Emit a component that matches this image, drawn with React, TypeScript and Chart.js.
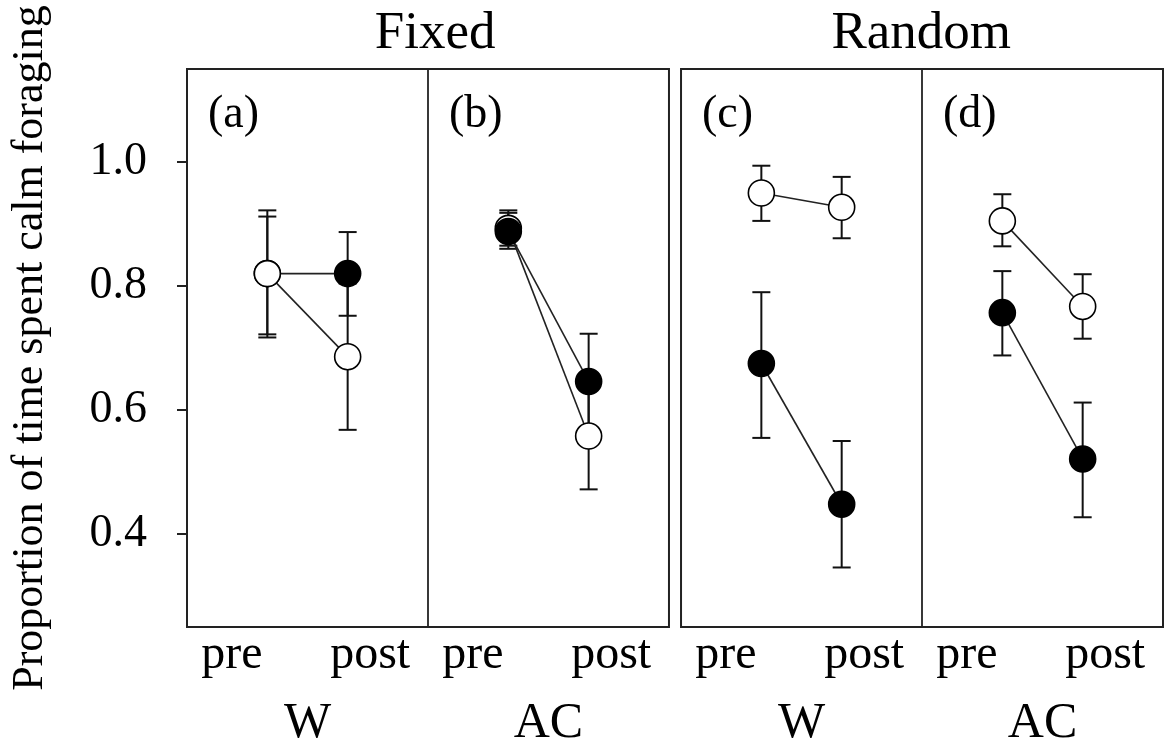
import React, { useEffect, useRef } from "react";
import { Chart, registerables } from "chart.js";

Chart.register(...registerables);

// ---- text ----
const panelLabels = ["(a)", "(b)", "(c)", "(d)"];
const groupTitles = ["Fixed", "Random"];
const phaseLabels = ["pre", "post"];
const treatmentLabels = ["W", "AC", "W", "AC"];
const yTicks = [0.4, 0.6, 0.8, 1.0];
const yTitle = "Proportion of time spent calm foraging";

// ---- data: per panel [pre, post] ----
const filledMean = [[0.82, 0.82], [0.888, 0.646], [0.675, 0.448], [0.757, 0.521]];
const filledLo = [[0.717, 0.752], [0.86, 0.569], [0.555, 0.346], [0.688, 0.427]];
const filledHi = [[0.922, 0.887], [0.918, 0.723], [0.79, 0.55], [0.824, 0.612]];

const openMean = [[0.82, 0.686], [0.893, 0.558], [0.95, 0.927], [0.905, 0.767]];
const openLo = [[0.722, 0.568], [0.865, 0.472], [0.905, 0.877], [0.864, 0.715]];
const openHi = [[0.912, 0.804], [0.922, 0.644], [0.994, 0.976], [0.948, 0.819]];

// ---- layout constants (x-scale units) ----
const panelStart = [0, 3, 6.15, 9.15];
const groupSpan = [[0, 6], [6.15, 12.15]];
const dividers = [3, 9.15];
const xMax = 12.15;
const openOnTop = [true, false, true, true];
const phaseLabelOffset = [0.56, 2.28];
const groupTitlePos = [3.09, 9.14];

const FONT = "'Liberation Serif', 'Times New Roman', serif";

const phaseTickValues = panelStart.flatMap((s) => phaseLabelOffset.map((o) => s + o));
const phaseTickLabels = panelStart.flatMap(() => phaseLabels);
const treatTickValues = panelStart.map((s) => s + 1.5);

function buildDatasets() {
  const ds: any[] = [];
  panelStart.forEach((x0, p) => {
    const series = [
      { mean: filledMean[p], lo: filledLo[p], hi: filledHi[p], fill: "#000", top: !openOnTop[p] },
      { mean: openMean[p], lo: openLo[p], hi: openHi[p], fill: "#fff", top: openOnTop[p] },
    ];
    series.forEach((s) => {
      ds.push({
        type: "line",
        data: [
          { x: x0 + 1, y: s.lo[0] },
          { x: x0 + 1, y: s.hi[0] },
          { x: x0 + 1, y: null },
          { x: x0 + 2, y: s.lo[1] },
          { x: x0 + 2, y: s.hi[1] },
        ],
        borderColor: "#111",
        borderWidth: 2,
        spanGaps: false,
        pointStyle: "line",
        pointRadius: 9,
        pointBorderWidth: 2,
        pointBorderColor: "#111",
        pointBackgroundColor: "#111",
        order: 10,
      });
      ds.push({
        type: "line",
        data: [
          { x: x0 + 1, y: s.mean[0] },
          { x: x0 + 2, y: s.mean[1] },
        ],
        borderColor: "#222",
        borderWidth: 1.6,
        pointStyle: "circle",
        pointRadius: 13,
        pointBorderWidth: 1.6,
        pointBorderColor: "#000",
        pointBackgroundColor: s.fill,
        order: s.top ? 1 : 2,
      });
    });
  });
  return ds;
}

const framePlugin = {
  id: "frames",
  beforeDatasetsDraw(chart: any) {
    const { ctx, chartArea } = chart;
    const x = chart.scales.x;
    ctx.save();
    ctx.strokeStyle = "#222";
    ctx.lineWidth = 2;
    groupSpan.forEach(([a, b]) => {
      const l = x.getPixelForValue(a);
      const r = x.getPixelForValue(b);
      ctx.strokeRect(l, chartArea.top, r - l, chartArea.bottom - chartArea.top);
    });
    ctx.lineWidth = 1.8;
    dividers.forEach((d) => {
      const px = Math.round(x.getPixelForValue(d));
      ctx.beginPath();
      ctx.moveTo(px, chartArea.top);
      ctx.lineTo(px, chartArea.bottom);
      ctx.stroke();
    });
    ctx.fillStyle = "#000";
    ctx.font = `46px ${FONT}`;
    ctx.textAlign = "left";
    ctx.textBaseline = "alphabetic";
    panelLabels.forEach((lab, p) => {
      ctx.fillText(lab, x.getPixelForValue(panelStart[p]) + 21, chartArea.top + 58);
    });
    ctx.restore();
  },
};

export default function App() {
  const ref = useRef<HTMLCanvasElement | null>(null);

  useEffect(() => {
    if (!ref.current) return;
    const chart = new Chart(ref.current, {
      type: "line",
      data: { datasets: buildDatasets() },
      options: {
        responsive: false,
        animation: false,
        devicePixelRatio: 1,
        events: [],
        layout: { autoPadding: false, padding: { top: 0, right: 4, bottom: 0, left: 0 } },
        plugins: { legend: { display: false }, tooltip: { enabled: false } },
        scales: {
          x: {
            type: "linear",
            position: "bottom",
            min: 0,
            max: xMax,
            weight: 0,
            grid: { display: false, drawTicks: false },
            border: { display: false },
            afterBuildTicks: (s: any) => {
              s.ticks = phaseTickValues.map((v) => ({ value: v }));
            },
            afterFit: (s: any) => {
              s.height = 64;
            },
            ticks: {
              autoSkip: false,
              maxRotation: 0,
              padding: 0,
              color: "#000",
              font: { family: FONT, size: 48 },
              callback: (_v: any, i: number) => phaseTickLabels[i],
            },
          },
          x2: {
            type: "linear",
            position: "bottom",
            min: 0,
            max: xMax,
            weight: 1,
            grid: { display: false, drawTicks: false },
            border: { display: false },
            afterBuildTicks: (s: any) => {
              s.ticks = treatTickValues.map((v) => ({ value: v }));
            },
            afterFit: (s: any) => {
              s.height = 62;
            },
            ticks: {
              autoSkip: false,
              maxRotation: 0,
              padding: 3,
              color: "#000",
              font: { family: FONT, size: 50 },
              callback: (_v: any, i: number) => treatmentLabels[i],
            },
          },
          xTop: {
            type: "linear",
            position: "top",
            min: 0,
            max: xMax,
            grid: { display: false, drawTicks: false },
            border: { display: false },
            afterBuildTicks: (s: any) => {
              s.ticks = groupTitlePos.map((v) => ({ value: v }));
            },
            afterFit: (s: any) => {
              s.height = 69;
            },
            ticks: {
              autoSkip: false,
              maxRotation: 0,
              padding: 3,
              color: "#000",
              font: { family: FONT, size: 53 },
              callback: (_v: any, i: number) => groupTitles[i],
            },
          },
          y: {
            type: "linear",
            position: "left",
            min: 0.25,
            max: 1.15,
            grid: {
              drawOnChartArea: false,
              drawTicks: true,
              tickLength: 10,
              color: "#222",
              lineWidth: 2,
            },
            border: { display: false },
            afterBuildTicks: (s: any) => {
              s.ticks = yTicks.map((v) => ({ value: v }));
            },
            afterFit: (s: any) => {
              s.width = 187;
            },
            ticks: {
              padding: 30,
              color: "#000",
              font: { family: FONT, size: 46 },
              callback: (v: any) => Number(v).toFixed(1),
            },
            title: {
              display: true,
              text: yTitle,
              color: "#000",
              font: { family: FONT, size: 44 },
              padding: { top: 4, bottom: 0 },
            },
          },
        },
      } as any,
      plugins: [framePlugin],
    });
    return () => chart.destroy();
  }, []);

  return (
    <div style={{ position: "absolute", left: 0, top: 0, width: 1167, height: 753, background: "#fff" }}>
      <canvas ref={ref} width={1167} height={753} style={{ display: "block" }} />
    </div>
  );
}
